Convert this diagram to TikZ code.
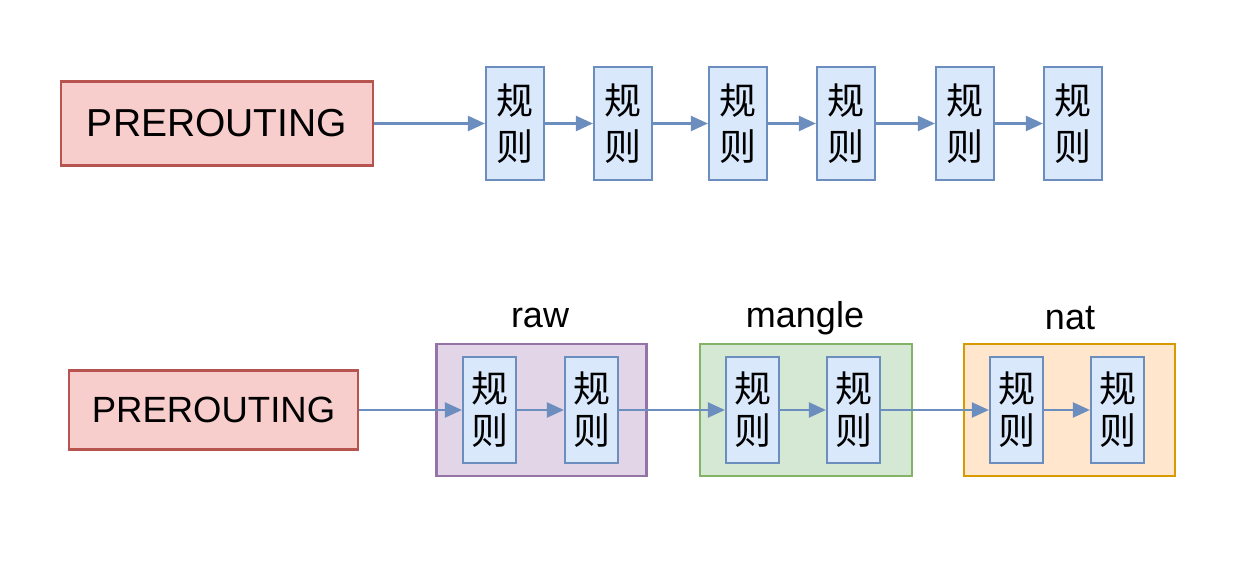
\documentclass[tikz,border=0pt]{standalone}
\usepackage{fontspec}
\setmainfont{Liberation Sans}
\newfontfamily\cjk{Noto Sans CJK SC}
\usetikzlibrary{arrows.meta}
\definecolor{chainfill}{HTML}{F8CECC}
\definecolor{chaindraw}{HTML}{B85450}
\definecolor{rulefill}{HTML}{DAE8FC}
\definecolor{ruledraw}{HTML}{6C8EBF}
\definecolor{rawfill}{HTML}{E1D5E7}
\definecolor{rawdraw}{HTML}{9673A6}
\definecolor{manglefill}{HTML}{D5E8D4}
\definecolor{mangledraw}{HTML}{82B366}
\definecolor{natfill}{HTML}{FFE6CC}
\definecolor{natdraw}{HTML}{D79B00}
\begin{document}
\begin{tikzpicture}[x=1pt,y=-1pt,
  chain/.style={draw=chaindraw,fill=chainfill,line width=2.2pt,inner sep=0pt},
  rulebig/.style={draw=ruledraw,fill=rulefill,line width=2.2pt,minimum width=58pt,minimum height=113pt,inner sep=0pt,align=center,font=\cjk\fontsize{37}{46}\selectfont},
  rulesmall/.style={draw=ruledraw,fill=rulefill,line width=2.2pt,minimum width=53pt,minimum height=106pt,inner sep=0pt,align=center,font=\cjk\fontsize{37}{42}\selectfont},
  table/.style={line width=2.2pt,minimum width=210pt,minimum height=132pt,inner sep=0pt},
  tablelabel/.style={font=\fontsize{36}{42}\selectfont},
  link/.style={draw=ruledraw,line width=2.2pt,-{Triangle[length=17pt,width=15pt]}}]

\useasboundingbox (0,0) rectangle (1258,564);

% first chain: rules in a row
\node (prerouting1)	at (217,123.5)	[chain,minimum width=312pt,minimum height=84pt,font=\fontsize{39}{46}\selectfont] {PREROUTING};
\node (rule1)	at (515,123.5)	[rulebig] {规\\则};
\node (rule2)	at (623,123.5)	[rulebig] {规\\则};
\node (rule3)	at (738,123.5)	[rulebig] {规\\则};
\node (rule4)	at (846,123.5)	[rulebig] {规\\则};
\node (rule5)	at (965,123.5)	[rulebig] {规\\则};
\node (rule6)	at (1073,123.5)	[rulebig] {规\\则};
\draw [link] (prerouting1.east) -- (rule1.west);
\draw [link] (rule1) -- (rule2);
\draw [link] (rule2) -- (rule3);
\draw [link] (rule3) -- (rule4);
\draw [link] (rule4) -- (rule5);
\draw [link] (rule5) -- (rule6);

% second chain: rules grouped by table
\node (prerouting2)	at (213.5,410)	[chain,minimum width=289pt,minimum height=79pt,font=\fontsize{36.5}{44}\selectfont] {PREROUTING};
\node (raw)	at (541.5,410)	[table,draw=rawdraw,fill=rawfill] {};
\node (mangle)	at (806,410)	[table,draw=mangledraw,fill=manglefill,minimum width=212pt] {};
\node (nat)	at (1069.5,410)	[table,draw=natdraw,fill=natfill,minimum width=211pt] {};
\node (raw_label)	at (540,318)	[tablelabel] {raw};
\node (mangle_label)	at (805,318)	[tablelabel] {mangle};
\node (nat_label)	at (1070,318)	[tablelabel] {nat};
\node (raw1)	at (489.5,410)	[rulesmall] {规\\则};
\node (raw2)	at (591.5,410)	[rulesmall] {规\\则};
\node (mangle1)	at (752.5,410)	[rulesmall] {规\\则};
\node (mangle2)	at (853.5,410)	[rulesmall] {规\\则};
\node (nat1)	at (1016.5,410)	[rulesmall] {规\\则};
\node (nat2)	at (1117.5,410)	[rulesmall] {规\\则};
\draw [link] (prerouting2.east) -- (raw1.west);
\draw [link] (raw1) -- (raw2);
\draw [link] (raw2) -- (mangle1);
\draw [link] (mangle1) -- (mangle2);
\draw [link] (mangle2) -- (nat1);
\draw [link] (nat1) -- (nat2);

\end{tikzpicture}
\end{document}
